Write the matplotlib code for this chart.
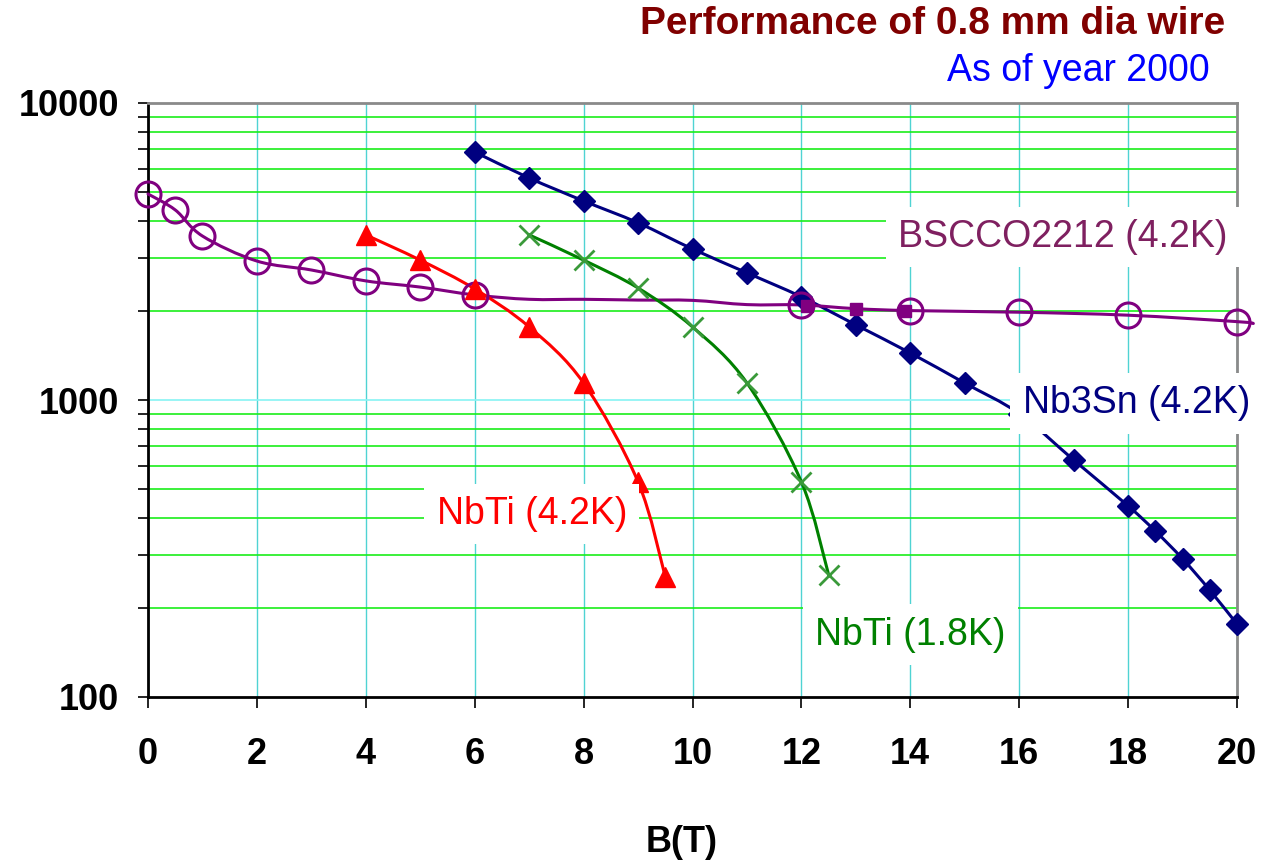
import matplotlib
matplotlib.use("Agg")
import numpy as np
import matplotlib.pyplot as plt
from matplotlib.path import Path
from matplotlib.patches import PathPatch
from matplotlib.ticker import FixedLocator, NullFormatter

plt.rcParams['font.family'] = ['Liberation Sans', 'DejaVu Sans']

# Nb3Sn at 4.2 K (navy diamonds)
nb3sn_b = [6, 7, 8, 9, 10, 11, 12, 13, 14, 15, 16, 17, 18, 18.5, 19, 19.5, 20]
nb3sn_jc = [6840, 5590, 4680, 3950, 3225, 2680, 2225, 1790, 1440, 1140, 900, 628, 440, 362, 292, 229, 176]

# BSCCO2212 at 4.2 K (purple, open circles on part of the curve)
bscco_b = [0, 0.5, 1, 2, 3, 4, 5, 6, 7, 8, 9, 10, 11, 12, 13, 14, 16, 18, 20, 20.3]
bscco_jc = [4940, 4365, 3565, 2937, 2740, 2518, 2400, 2258, 2183, 2183, 2170, 2165, 2095, 2090, 2030, 2000, 1975, 1930, 1836, 1810]
bscco_marked = [0, 0.5, 1, 2, 3, 4, 5, 6, 12, 14, 16, 18, 20]

# second BSCCO data set (small filled squares)
bscco_sq_b = [12.1, 13, 13.9]
bscco_sq_jc = [2080, 2025, 1990]

# NbTi at 4.2 K (red triangles)
nbti42_b = [4, 5, 6, 7, 8, 9, 9.5]
nbti42_jc = [3597, 2958, 2366, 1762, 1141, 530, 254]

# NbTi at 1.8 K (green crosses)
nbti18_b = [7, 8, 9, 10, 11, 12, 12.5]
nbti18_jc = [3597, 2958, 2383, 1762, 1141, 530, 258]

x_ticks = list(range(0, 21, 2))
y_ticks = [100, 1000, 10000]


def smooth_line(ax, xs, ys, color, lw=2.2):
    # Excel-style smoothed line: bezier control points taken in (x, log y) space
    u = np.asarray(xs, float)
    v = np.log10(np.asarray(ys, float))
    verts = [(u[0], v[0])]
    codes = [Path.MOVETO]
    n = len(u)
    for i in range(n - 1):
        p0 = np.array([u[max(i - 1, 0)], v[max(i - 1, 0)]])
        p1 = np.array([u[i], v[i]])
        p2 = np.array([u[i + 1], v[i + 1]])
        p3 = np.array([u[min(i + 2, n - 1)], v[min(i + 2, n - 1)]])
        c1 = p1 + (p2 - p0) / 6
        c2 = p2 - (p3 - p1) / 6
        verts += [tuple(c1), tuple(c2), tuple(p2)]
        codes += [Path.CURVE4] * 3
    verts = [(a, 10 ** b) for a, b in verts]
    patch = PathPatch(Path(verts, codes), facecolor='none', edgecolor=color, lw=lw,
                      zorder=3, clip_on=False, capstyle='round', joinstyle='round')
    ax.add_patch(patch)


fig = plt.figure(figsize=(12.69, 8.65), dpi=100)
ax = fig.add_axes([148 / 1269, 1 - 697 / 865, (1237 - 148) / 1269, (697 - 103) / 865])

ax.set_yscale('log')
ax.set_xlim(0, 20)
ax.set_ylim(100, 10000)

# grid: cyan verticals, green horizontals on minor decades
for xv in x_ticks:
    ax.axvline(xv, color='#4fd3d3', lw=1.0, zorder=1)
minor = [m * d for d in (100, 1000) for m in range(2, 10)]
for yv in minor:
    ax.axhline(yv, color='#1aee1a', lw=1.2, zorder=1)
ax.axhline(1000, color='#88f4f4', lw=1.2, zorder=1)

ax.xaxis.set_major_locator(FixedLocator(x_ticks))
ax.yaxis.set_major_locator(FixedLocator(y_ticks))
ax.yaxis.set_minor_locator(FixedLocator(minor))
ax.yaxis.set_minor_formatter(NullFormatter())
ax.set_yticklabels([str(v) for v in y_ticks])
ax.tick_params(axis='both', which='both', direction='out', width=1.2, color='black')
ax.tick_params(axis='x', length=8, labelsize=26, pad=21)
ax.tick_params(axis='y', which='both', length=7, labelsize=26, pad=14)
for lab in ax.get_xticklabels() + ax.get_yticklabels():
    lab.set_fontweight('bold')

for side in ('left', 'bottom'):
    ax.spines[side].set_color('black')
    ax.spines[side].set_linewidth(2)
for side in ('top', 'right'):
    ax.spines[side].set_color('#8a8a8a')
    ax.spines[side].set_linewidth(2)

ax.set_xlabel('B(T)', fontsize=26, fontweight='bold')
ax.xaxis.label.set_va('center')
ax.xaxis.set_label_coords((682 - 148) / 1089, -(842 - 697) / 594)

purple = '#800080'
smooth_line(ax, nb3sn_b, nb3sn_jc, '#000080')
ax.plot(nb3sn_b, nb3sn_jc, ls='none', color='#000080', marker='D', ms=11, zorder=4, clip_on=False)
smooth_line(ax, bscco_b, bscco_jc, purple)
ax.plot(bscco_marked, [bscco_jc[bscco_b.index(b)] for b in bscco_marked], ls='none',
        marker='o', ms=18, mfc='none', mec=purple, mew=2.2, zorder=4, clip_on=False)
ax.plot(bscco_sq_b, bscco_sq_jc, ls='none', marker='s', ms=8, color=purple, zorder=4)
smooth_line(ax, nbti42_b, nbti42_jc, 'red')
ax.plot(nbti42_b, nbti42_jc, ls='none', color='red', marker='^', ms=14, zorder=4)
smooth_line(ax, nbti18_b, nbti18_jc, '#008000')
ax.plot(nbti18_b, nbti18_jc, ls='none', marker='x', ms=14, mew=2, mec='#3a9a3a', zorder=4)

box = dict(facecolor='white', edgecolor='none', pad=9)
ax.text(16.8, 3540, 'BSCCO2212 (4.2K)', color='#7f2060', fontsize=27, ha='center', va='center', bbox=box, zorder=6)
ax.text(18.15, 976, 'Nb3Sn (4.2K)', color='#000080', fontsize=27, ha='center', va='center', bbox=box, zorder=6)
ax.text(7.05, 413, 'NbTi (4.2K)', color='red', fontsize=27, ha='center', va='center', bbox=box, zorder=6)
ax.text(14.0, 162, 'NbTi (1.8K)', color='#008000', fontsize=27, ha='center', va='center', bbox=box, zorder=6)

fig.text(933 / 1269, 1 - 24 / 865, 'Performance of 0.8 mm dia wire', color='#800000',
         fontsize=28, fontweight='bold', ha='center', va='center')
fig.text(1078 / 1269, 1 - 71 / 865, 'As of year 2000', color='#0000ff',
         fontsize=27, ha='center', va='center')

fig.savefig('out.png', dpi=100)
